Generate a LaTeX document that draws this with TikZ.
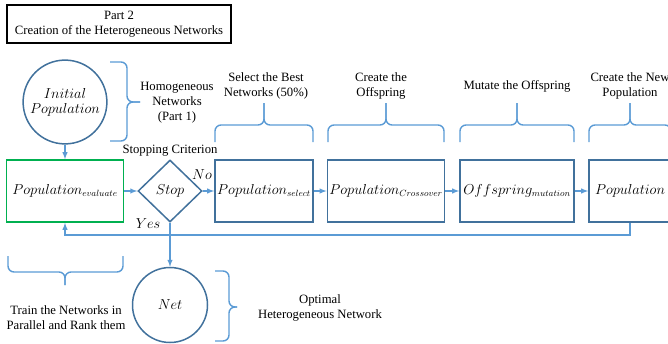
\documentclass[tikz,border=0pt]{standalone}
\usepackage{fontspec}
\setmainfont{Liberation Serif}
\usepackage{xcolor}
\usepackage{tikz}
\usetikzlibrary{shapes,arrows}

\definecolor{boxblue}{HTML}{41719C}
\definecolor{linkblue}{HTML}{5B9BD5}
\definecolor{evalgreen}{HTML}{00B050}

\begin{document}
\begin{tikzpicture}[x=1pt,y=-1pt]
\tikzstyle{txt}=[font=\fontsize{12.7}{15}\selectfont, align=center, inner sep=0pt]
\tikzstyle{mathtxt}=[font=\fontsize{13.5}{15}\selectfont, align=center]
\tikzstyle{stage}=[draw=boxblue, line width=1.6pt, minimum height=62pt, inner sep=2pt, mathtxt]
\tikzstyle{link}=[draw=linkblue, line width=1.4pt, -latex]
\tikzstyle{brace}=[draw=linkblue, line width=1.4pt, rounded corners=6pt]
\useasboundingbox (0,0) rectangle (668,343);
\clip (0,0) rectangle (668,343);
\node[draw=black, line width=1.2pt, minimum width=224pt, minimum height=38pt, txt] (title) at (119,24) {Part 2\\Creation of the Heterogeneous Networks};
\node[circle, draw=boxblue, line width=1.5pt, minimum size=77pt, mathtxt] (init) at (65,102) {$Initial$\\$Population$};
\node[stage, draw=evalgreen, minimum width=117pt] (eval) at (65,191) {$Population_{evaluate}$};
\node[diamond, draw=boxblue, line width=1.5pt, minimum width=64pt, minimum height=62pt, inner sep=0pt, mathtxt] (stop) at (170,191) {$Stop$};
\node[stage, minimum width=98pt] (select) at (264,191) {$Population_{select}$};
\node[stage, minimum width=116pt] (cross) at (386,191) {$Population_{Crossover}$};
\node[stage, minimum width=114pt] (mut) at (517,191) {$Offspring_{mutation}$};
\node[stage, minimum width=82pt] (pop) at (630,191) {$Population$};
\node[circle, draw=boxblue, line width=1.5pt, minimum size=75pt, mathtxt] (net) at (170,305) {$Net$};
% labels
\node[txt] (stopcrit) at (170,151) {Stopping Criterion};
\node[mathtxt, inner sep=0pt] (no) at (202,175) {$No$};
\node[mathtxt, inner sep=0pt] (yes) at (148,224) {$Yes$};
\node[txt] (homog) at (177,103) {Homogeneous\\Networks\\(Part 1)};
\node[txt] (selbest) at (266,86) {Select the Best\\Networks (50\%)};
\node[txt] (createoff) at (381,86) {Create the\\Offspring};
\node[txt] (mutoff) at (517,86) {Mutate the Offspring};
\node[txt] (createnew) at (630,86) {Create the New\\Population};
\node[txt] (train) at (66,318) {Train the Networks in\\Parallel and Rank them};
\node[txt] (optimal) at (320,308) {Optimal\\Heterogeneous Network};
% flow
\draw[link] (init) -- (eval);
\draw[link] (eval) -- (stop);
\draw[link] (stop) -- (select);
\draw[link] (select) -- (cross);
\draw[link] (cross) -- (mut);
\draw[link] (mut) -- (pop);
\draw[link] (stop) -- (net);
\draw[link] (pop.south) -- ++(0,12) -| (eval.south);
% braces
\foreach \l/\r/\t in {215/313/264, 328/444/386, 460/574/517, 589/671/630} {
  \draw[brace] (\l,142) -- (\l,125) -- (\t,125) -- (\t,103);
  \draw[brace] (\r,142) -- (\r,125) -- (\t,125) -- (\t,103);
}
\draw[brace] (8,256) -- (8,272) -- (65,272) -- (65,285);
\draw[brace] (123,256) -- (123,272) -- (65,272) -- (65,285);
\draw[brace] (110,62) -- (127,62) -- (127,102) -- (140,102);
\draw[brace] (110,141) -- (127,141) -- (127,102) -- (140,102);
\draw[brace] (215,271) -- (229,271) -- (229,307) -- (237,307);
\draw[brace] (215,341) -- (229,341) -- (229,307) -- (237,307);
\end{tikzpicture}
\end{document}
